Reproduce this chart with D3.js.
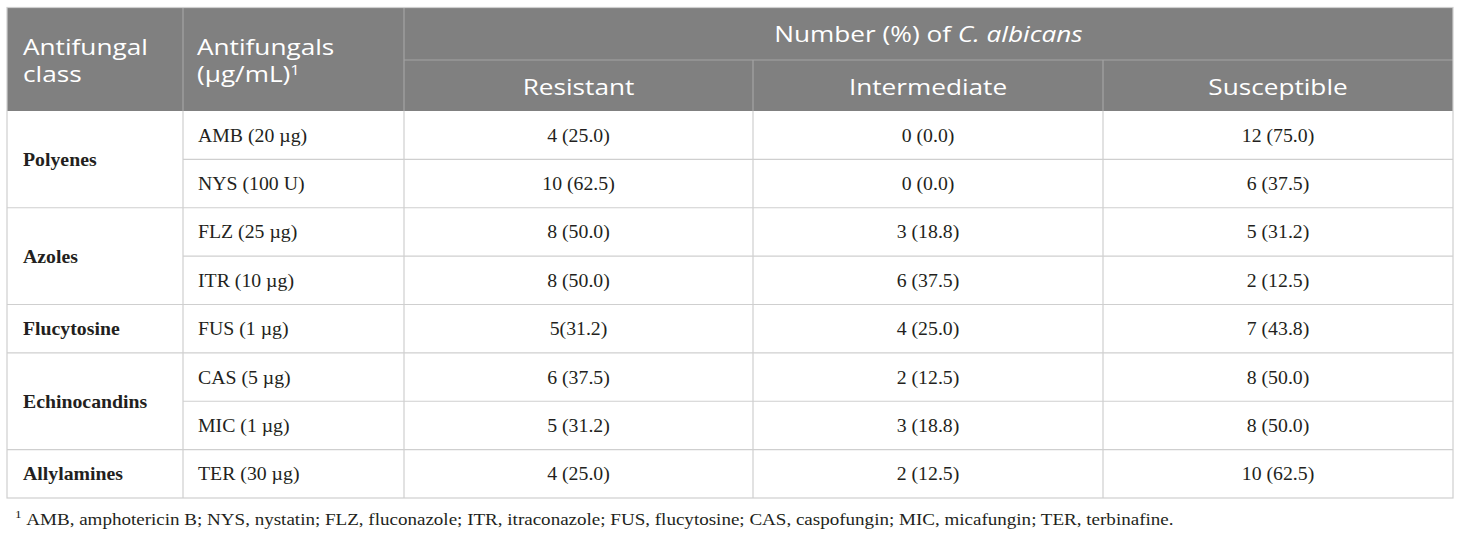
<!DOCTYPE html>
<html>
<head>
<meta charset="utf-8">
<script src="https://cdn.jsdelivr.net/npm/d3@7"></script>
<style>
  html, body { margin: 0; padding: 0; background: #fff; }
  svg { display: block; }
  .hdr { font-family: "Open Sans", "Noto Sans", sans-serif; fill: #fff; font-size: 22px; }
  .cell { font-family: "Liberation Serif", "DejaVu Serif", serif; fill: #231f20; font-size: 18.5px; }
  .cls { font-weight: bold; }
  .note { font-family: "Liberation Serif", "DejaVu Serif", serif; fill: #231f20; font-size: 16px; }
</style>
</head>
<body>
<svg id="tabla" width="1460" height="535"></svg>
<script>
// datos de la tabla
const clases = ["Polyenes", "Polyenes", "Azoles", "Azoles", "Flucytosine", "Echinocandins", "Echinocandins", "Allylamines"];
const antifungicos = ["AMB (20 µg)", "NYS (100 U)", "FLZ (25 µg)", "ITR (10 µg)", "FUS (1 µg)", "CAS (5 µg)", "MIC (1 µg)", "TER (30 µg)"];
const resistentes = ["4 (25.0)", "10 (62.5)", "8 (50.0)", "8 (50.0)", "5(31.2)", "6 (37.5)", "5 (31.2)", "4 (25.0)"];
const intermedios = ["0 (0.0)", "0 (0.0)", "3 (18.8)", "6 (37.5)", "4 (25.0)", "2 (12.5)", "3 (18.8)", "2 (12.5)"];
const susceptibles = ["12 (75.0)", "6 (37.5)", "5 (31.2)", "2 (12.5)", "7 (43.8)", "8 (50.0)", "8 (50.0)", "10 (62.5)"];
const subtitulos = ["Resistant", "Intermediate", "Susceptible"];
const nota = "AMB, amphotericin B; NYS, nystatin; FLZ, fluconazole; ITR, itraconazole; FUS, flucytosine; CAS, caspofungin; MIC, micafungin; TER, terbinafine.";

const svg = d3.select("#tabla");

const bordes = [7, 183, 404, 753, 1103, 1453];
const yTop = 7.5, yMid = 60, yHdr = 111, yFin = 498;
const lineaCol = "#cfcfcf";
const lineaHdr = "#a3a3a3";

// el original viene estirado en horizontal
const sxHdr = 1.19, sxCell = 1.07, sxNota = 1.19;
const pos = (x, y, sx) => `translate(${x},${y}) scale(${sx},1)`;

const y = d3.scaleBand()
  .domain(d3.range(antifungicos.length))
  .range([yHdr, yFin]);

// agrupar clases consecutivas
const grupos = [];
clases.forEach((c, i) => {
  const g = grupos[grupos.length - 1];
  if (g && g.nombre === c) g.fin = i;
  else grupos.push({ nombre: c, ini: i, fin: i });
});

// encabezado
svg.append("rect")
  .attr("x", bordes[0]).attr("y", yTop)
  .attr("width", bordes[5] - bordes[0]).attr("height", yHdr - yTop)
  .attr("fill", "#808080");

const hl = svg.append("g").attr("stroke", lineaHdr).attr("stroke-width", 1.2);
[bordes[1], bordes[2]].forEach(x => {
  hl.append("line").attr("x1", x).attr("x2", x).attr("y1", yTop).attr("y2", yHdr);
});
[bordes[3], bordes[4]].forEach(x => {
  hl.append("line").attr("x1", x).attr("x2", x).attr("y1", yMid).attr("y2", yHdr);
});
hl.append("line").attr("x1", bordes[2]).attr("x2", bordes[5]).attr("y1", yMid).attr("y2", yMid);

const h = svg.append("g").attr("class", "hdr");
h.append("text").attr("transform", pos(23, 55, sxHdr)).text("Antifungal");
h.append("text").attr("transform", pos(23, 82, sxHdr)).text("class");
h.append("text").attr("transform", pos(197, 55, sxHdr)).text("Antifungals");
const t2 = h.append("text").attr("transform", pos(197, 82, sxHdr));
t2.append("tspan").text("(µg/mL)");
t2.append("tspan").attr("dy", -7).attr("font-size", 14).text("1");

const tn = h.append("text")
  .attr("transform", pos((bordes[2] + bordes[5]) / 2, 42, sxHdr))
  .attr("text-anchor", "middle");
tn.append("tspan").text("Number (%) of ");
tn.append("tspan").attr("font-style", "italic").text("C. albicans");

h.selectAll(".sub")
  .data(subtitulos)
  .join("text")
  .attr("class", "sub")
  .attr("transform", (d, i) => pos((bordes[i + 2] + bordes[i + 3]) / 2, 95, sxHdr))
  .attr("text-anchor", "middle")
  .text(d => d);

// líneas del cuerpo
const bl = svg.append("g").attr("stroke", lineaCol).attr("stroke-width", 1.2).attr("fill", "none");
bl.append("rect")
  .attr("x", bordes[0]).attr("y", yTop)
  .attr("width", bordes[5] - bordes[0]).attr("height", yFin - yTop);
bordes.slice(1, 5).forEach(x => {
  bl.append("line").attr("x1", x).attr("x2", x).attr("y1", yHdr).attr("y2", yFin);
});
d3.range(1, antifungicos.length).forEach(i => {
  const esGrupo = grupos.some(g => g.ini === i);
  bl.append("line")
    .attr("x1", esGrupo ? bordes[0] : bordes[1]).attr("x2", bordes[5])
    .attr("y1", y(i)).attr("y2", y(i));
});

// clases
svg.append("g").selectAll("text")
  .data(grupos)
  .join("text")
  .attr("class", "cell cls")
  .attr("transform", g => pos(23, (y(g.ini) + y(g.fin) + y.bandwidth()) / 2, sxCell))
  .attr("dy", "0.35em")
  .text(g => g.nombre);

svg.append("g").selectAll("text")
  .data(antifungicos)
  .join("text")
  .attr("class", "cell")
  .attr("transform", (d, i) => pos(198, y(i) + y.bandwidth() / 2, sxCell))
  .attr("dy", "0.35em")
  .text(d => d);

[resistentes, intermedios, susceptibles].forEach((serie, k) => {
  const cx = (bordes[k + 2] + bordes[k + 3]) / 2;
  svg.append("g").selectAll("text")
    .data(serie)
    .join("text")
    .attr("class", "cell")
    .attr("transform", (d, i) => pos(cx, y(i) + y.bandwidth() / 2, sxCell))
    .attr("dy", "0.35em")
    .attr("text-anchor", "middle")
    .text(d => d);
});

// nota al pie
const nt = svg.append("text").attr("class", "note").attr("transform", pos(15, 525, sxNota));
nt.append("tspan").attr("font-size", 11).attr("dy", -7).text("1");
nt.append("tspan").attr("dx", 4).attr("dy", 7).text(nota);
</script>
</body>
</html>
